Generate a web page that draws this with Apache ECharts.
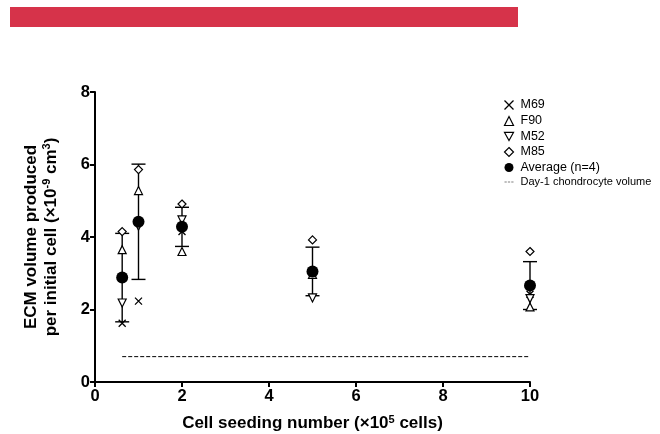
<!DOCTYPE html>
<html>
<head>
<meta charset="utf-8">
<script src="https://cdn.jsdelivr.net/npm/echarts@6/dist/echarts.min.js"></script>
<style>
  html, body { margin: 0; padding: 0; background: #fff; }
  #chart { width: 660px; height: 434px; }
</style>
</head>
<body>
<div id="chart"></div>
<script>
// 数据
const seeding = [0.625, 1, 2, 5, 10];
const m69 = [1.62, 2.23, 4.15, 3.0, 2.42];
const f90 = [3.65, 5.28, 3.6, 2.97, 2.07];
const m52 = [2.18, 4.3, 4.47, 2.32, 2.3];
const m85 = [4.15, 5.86, 4.91, 3.92, 3.6];
const average = [2.88, 4.42, 4.28, 3.05, 2.66];
const sd = [1.22, 1.59, 0.54, 0.67, 0.66];
const day1Range = [0.625, 10];
const day1Volume = 0.7;
const xTicks = [0, 2, 4, 6, 8, 10];
const yTicks = [0, 2, 4, 6, 8];

const font = 'Arial, "Liberation Sans", sans-serif';
const crossPath = 'path://M0,0L10,10M10,0L0,10';
const dashPath = 'path://M0,4h4v1.3h-4zM6,4h4v1.3h-4zM12,4h4v1.3h-4z';

const pairs = (ys) => seeding.map((x, i) => [x, ys[i]]);

const openSymbol = {
    color: '#fff',
    borderColor: '#000',
    borderWidth: 1.2,
    opacity: 1
};

const chart = echarts.init(document.getElementById('chart'));

const option = {
    animation: false,
    backgroundColor: '#fff',
    graphic: [{
        type: 'rect',
        left: 10, top: 7,
        shape: { width: 508, height: 20 },
        style: { fill: '#d6334a' }
    }],
    grid: { left: 95, right: 130, top: 92, bottom: 52, outerBoundsMode: 'none', containLabel: false },
    xAxis: {
        type: 'value', min: 0, max: 10, interval: 2,
        name: 'Cell seeding number (×10{sup|5} cells)',
        nameLocation: 'middle', nameGap: 32,
        nameTextStyle: {
            fontFamily: font, fontSize: 17, fontWeight: 'bold', color: '#000',
            rich: { sup: { fontFamily: font, fontSize: 11, fontWeight: 'bold', color: '#000', verticalAlign: 'top', padding: [0, 0, 8, 0] } }
        },
        axisLine: { onZero: false, lineStyle: { color: '#000', width: 2 } },
        axisTick: { show: true, length: 5, lineStyle: { color: '#000', width: 2 } },
        axisLabel: {
            fontFamily: font, fontSize: 16.5, fontWeight: 'bold', color: '#000', margin: 6,
            formatter: (v) => (xTicks.includes(v) ? String(v) : '')
        },
        splitLine: { show: false }
    },
    yAxis: {
        type: 'value', min: 0, max: 8, interval: 2,
        name: '{t|ECM volume produced}\n{t|per initial cell (×10}{sup|-9}{t| cm}{sup|3}{t|)}',
        nameLocation: 'middle', nameGap: 34, nameRotate: 90,
        nameTextStyle: {
            fontFamily: font, fontSize: 17, fontWeight: 'bold', color: '#000', lineHeight: 20,
            rich: {
                t: { fontFamily: font, fontSize: 17, fontWeight: 'bold', color: '#000', lineHeight: 20 },
                sup: { fontFamily: font, fontSize: 11, fontWeight: 'bold', color: '#000', verticalAlign: 'top', lineHeight: 20, padding: [0, 0, 8, 0] }
            }
        },
        axisLine: { show: true, lineStyle: { color: '#000', width: 2 } },
        axisTick: { show: true, length: 5, lineStyle: { color: '#000', width: 2 } },
        axisLabel: {
            fontFamily: font, fontSize: 16.5, fontWeight: 'bold', color: '#000', margin: 5,
            formatter: (v) => (yTicks.includes(v) ? String(v) : '')
        },
        splitLine: { show: false }
    },
    legend: {
        orient: 'vertical',
        left: 497, top: 93,
        itemWidth: 9, itemHeight: 9, itemGap: 2.5,
        textStyle: { fontFamily: font, fontSize: 12.5, color: '#000', padding: [0, 0, 0, 2] },
        data: [
            { name: 'M69', icon: crossPath, itemStyle: { color: 'none', borderColor: '#000', borderWidth: 1.3 } },
            { name: 'F90', icon: 'triangle', itemStyle: openSymbol },
            { name: 'M52', icon: 'path://M0,0L10,0L5,9Z', itemStyle: openSymbol },
            { name: 'M85', icon: 'diamond', itemStyle: openSymbol },
            { name: 'Average (n=4)', icon: 'circle', itemStyle: { color: '#000', opacity: 1 } },
            { name: 'Day-1 chondrocyte volume', icon: dashPath, itemStyle: { color: '#000' },
              textStyle: { fontSize: 11 } }
        ]
    },
    series: [
        {
            name: 'error',
            type: 'custom',
            z: 1,
            data: seeding.map((x, i) => [x, average[i] - sd[i], average[i] + sd[i]]),
            renderItem: (params, api) => {
                const lo = api.coord([api.value(0), api.value(1)]);
                const hi = api.coord([api.value(0), api.value(2)]);
                const half = 7;
                const style = { stroke: '#000', lineWidth: 1.4 };
                return {
                    type: 'group',
                    children: [
                        { type: 'line', shape: { x1: lo[0], y1: lo[1], x2: hi[0], y2: hi[1] }, style },
                        { type: 'line', shape: { x1: lo[0] - half, y1: lo[1], x2: lo[0] + half, y2: lo[1] }, style },
                        { type: 'line', shape: { x1: hi[0] - half, y1: hi[1], x2: hi[0] + half, y2: hi[1] }, style }
                    ]
                };
            }
        },
        {
            name: 'Day-1 chondrocyte volume',
            type: 'line',
            z: 1,
            data: day1Range.map((x) => [x, day1Volume]),
            showSymbol: false,
            symbol: 'none',
            lineStyle: { color: '#000', width: 1, type: [4, 2] },
            itemStyle: { color: '#000' }
        },
        {
            name: 'M69', type: 'scatter', z: 3, data: pairs(m69),
            symbol: crossPath, symbolSize: 7,
            itemStyle: { color: 'none', borderColor: '#000', borderWidth: 1.3, opacity: 1 }
        },
        {
            name: 'F90', type: 'scatter', z: 3, data: pairs(f90),
            symbol: 'triangle', symbolSize: 8, itemStyle: openSymbol
        },
        {
            name: 'M52', type: 'scatter', z: 3, data: pairs(m52),
            symbol: 'triangle', symbolRotate: 180, symbolSize: 8, itemStyle: openSymbol
        },
        {
            name: 'M85', type: 'scatter', z: 3, data: pairs(m85),
            symbol: 'diamond', symbolSize: 8, itemStyle: openSymbol
        },
        {
            name: 'Average (n=4)', type: 'scatter', z: 4, data: pairs(average),
            symbol: 'circle', symbolSize: 12, itemStyle: { color: '#000', opacity: 1 }
        }
    ]
};

chart.setOption(option);
</script>
</body>
</html>
